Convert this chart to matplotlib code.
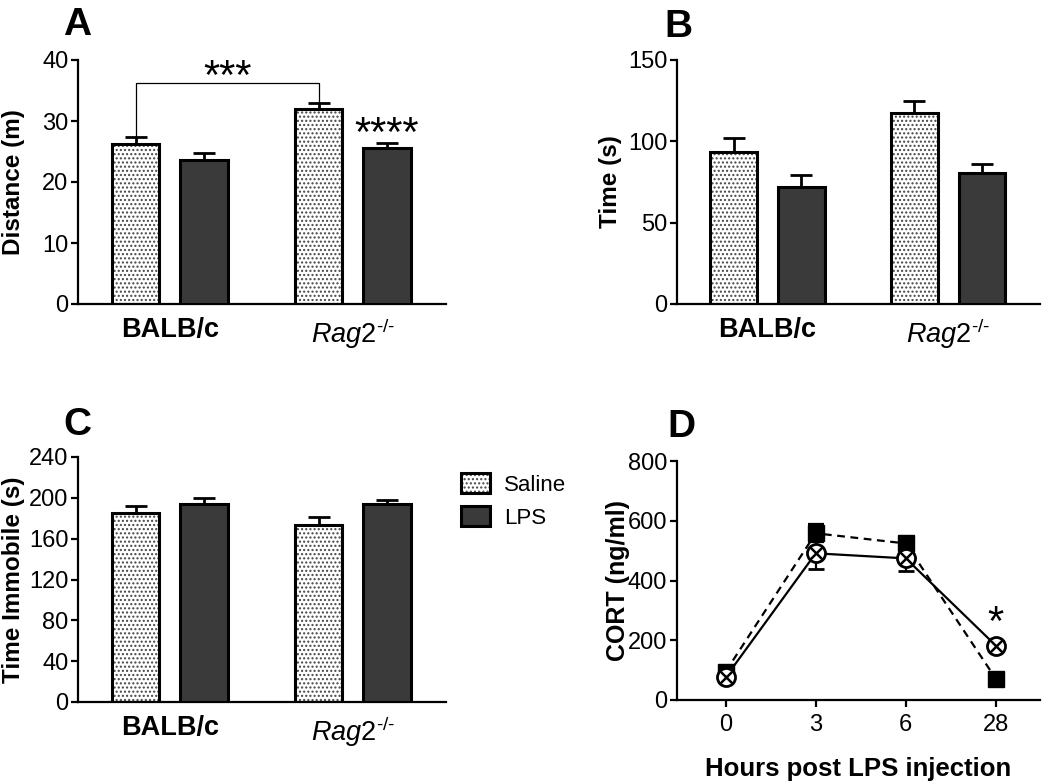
import matplotlib
matplotlib.use('Agg')
import matplotlib.pyplot as plt
import numpy as np
from matplotlib.patches import Patch
from matplotlib.legend_handler import HandlerTuple

plt.rcParams['font.family'] = ['Liberation Sans', 'DejaVu Sans']
plt.rcParams['mathtext.fontset'] = 'custom'
plt.rcParams['mathtext.rm'] = 'Liberation Sans'
plt.rcParams['mathtext.it'] = 'Liberation Sans:italic'
plt.rcParams['mathtext.bf'] = 'Liberation Sans:bold'
plt.rcParams['hatch.linewidth'] = 1.0

# ---------------- data ----------------
strains = ['BALB/c', r'$\mathit{Rag2}^{\text{-/-}}$']
treatments = ['Saline', 'LPS']

dist_saline = [26.2, 32.0]
dist_saline_sem = [1.1, 1.0]
dist_lps = [23.6, 25.6]
dist_lps_sem = [1.1, 0.8]

time_saline = [93.6, 117.2]
time_saline_sem = [8.6, 7.8]
time_lps = [72.1, 80.3]
time_lps_sem = [7.2, 5.6]

imm_saline = [185.1, 173.1]
imm_saline_sem = [6.9, 8.1]
imm_lps = [194.4, 193.7]
imm_lps_sem = [5.8, 4.6]

hours = ['0', '3', '6', '28']
cort_saline = [76, 491, 474, 182]
cort_saline_sem = [10, 54, 42, 14]
cort_lps = [95, 558, 524, 71]
cort_lps_sem = [10, 30, 12, 8]

# ---------------- figure ----------------
W, H = 1050, 781
fig = plt.figure(figsize=(W / 100, H / 100), dpi=100)


def px_axes(l, t, r, b):
    return fig.add_axes([l / W, 1 - b / H, (r - l) / W, (b - t) / H])


HATCH_COLOR = '#444444'
LPS_COLOR = '#3a3a3a'
TICK_FS = 17
LABEL_FS = 17.5
GROUP_GAP = 2.67
BAR_W = 0.69


def style_axes(ax):
    for s in ['top', 'right']:
        ax.spines[s].set_visible(False)
    for s in ['left', 'bottom']:
        ax.spines[s].set_linewidth(1.6)
    ax.tick_params(axis='y', direction='out', length=5, width=1.6,
                   labelsize=TICK_FS, pad=2)


def bar_panel(ax, sal, sal_e, lps, lps_e, ymax, ystep, ylabel, ylab_x):
    xs = np.arange(len(strains)) * GROUP_GAP
    xl = xs + 1
    ax.bar(xs, sal, width=BAR_W, color='white', edgecolor=HATCH_COLOR,
           hatch='....', linewidth=0, zorder=2)
    ax.bar(xs, sal, width=BAR_W, fill=False, edgecolor='black',
           linewidth=2.2, zorder=3)
    ax.bar(xl, lps, width=BAR_W, color=LPS_COLOR, edgecolor='black',
           linewidth=2.2, zorder=3)
    ax.errorbar(xs, sal, yerr=[np.zeros(len(sal)), sal_e], fmt='none',
                ecolor='black', elinewidth=2, capsize=8, capthick=2, zorder=4)
    ax.errorbar(xl, lps, yerr=[np.zeros(len(lps)), lps_e], fmt='none',
                ecolor='black', elinewidth=2, capsize=8, capthick=2, zorder=4)
    ax.set_xlim(-0.84, xs[-1] + 1 + 0.86)
    ax.set_ylim(0, ymax)
    ax.set_yticks(np.arange(0, ymax + 1, ystep))
    style_axes(ax)
    ax.set_xticks(xs + 0.5)
    ax.set_xticklabels(strains, fontsize=19.5)
    ax.get_xticklabels()[0].set_fontweight('bold')
    ax.tick_params(axis='x', length=0, pad=9)
    ax.set_ylabel(ylabel, fontsize=LABEL_FS, fontweight='bold')
    ax.yaxis.set_label_coords(ylab_x, 0.5)
    return xs, xl


# Panel A
axA = px_axes(78, 60, 446, 304)
xsA, xlA = bar_panel(axA, dist_saline, dist_saline_sem, dist_lps, dist_lps_sem,
                     40, 10, 'Distance (m)', -0.145)
yb = 36.3
axA.plot([xsA[0], xsA[0], xsA[1], xsA[1]],
         [dist_saline[0] + dist_saline_sem[0], yb, yb,
          dist_saline[1] + dist_saline_sem[1]],
         color='black', lw=0.9, zorder=5)
axA.text((xsA[0] + xsA[1]) / 2, 35.2, '***', ha='center', va='baseline',
         fontsize=30)
axA.text(xlA[1], 25.9, '****', ha='center', va='baseline', fontsize=30)

# Panel B
axB = px_axes(677, 60, 1040, 304)
bar_panel(axB, time_saline, time_saline_sem, time_lps, time_lps_sem,
          150, 50, 'Time (s)', -0.152)

# Panel C
axC = px_axes(78, 457, 446, 702)
bar_panel(axC, imm_saline, imm_saline_sem, imm_lps, imm_lps_sem,
          240, 40, 'Time Immobile (s)', -0.145)

# Panel D
axD = px_axes(677, 461, 1040, 700)
xd = np.arange(len(hours))
axD.errorbar(xd, cort_lps, yerr=cort_lps_sem, color='black', lw=1.6,
             ls=(0, (3.5, 2.5)), marker='s', ms=11.5, mfc='black', mec='black',
             capsize=6, capthick=1.6, elinewidth=1.6, zorder=3)
axD.errorbar(xd, cort_saline, yerr=cort_saline_sem, color='black', lw=1.6,
             ls='-', marker='o', ms=13, mfc='white', mec='black', mew=2,
             capsize=6, capthick=1.6, elinewidth=1.6, zorder=4)
axD.plot(xd, cort_saline, ls='none', marker='x', ms=9, mec='black', mew=1.8,
         zorder=5)
axD.set_xlim(-0.54, 3.49)
axD.set_ylim(0, 800)
axD.set_yticks(np.arange(0, 801, 200))
style_axes(axD)
axD.set_xticks(xd)
axD.set_xticklabels(hours)
axD.tick_params(axis='x', direction='out', length=5, width=1.6,
                labelsize=TICK_FS, pad=5)
axD.set_ylabel('CORT (ng/ml)', fontsize=LABEL_FS + 0.5, fontweight='bold')
axD.yaxis.set_label_coords(-0.13, 0.5)
axD.set_xlabel('Hours post LPS injection', fontsize=18.5,
               fontweight='bold', labelpad=15)
axD.text(xd[3], 216, '*', ha='center', va='baseline', fontsize=30)

# Panel letters
for lab, x, y in [('A', 77, 35), ('B', 678, 37), ('C', 77, 435), ('D', 681, 437)]:
    fig.text(x / W, 1 - y / H, lab, ha='center', va='baseline',
             fontsize=28, fontweight='bold')

# Legend
h_sal = (Patch(facecolor='white', edgecolor=HATCH_COLOR, hatch='....', linewidth=0),
         Patch(fill=False, edgecolor='black', linewidth=2.2))
h_lps = Patch(facecolor=LPS_COLOR, edgecolor='black', linewidth=2.2)
fig.legend(handles=[h_sal, h_lps], labels=treatments,
           handler_map={tuple: HandlerTuple(ndivide=1, pad=0)},
           loc='center left', bbox_to_anchor=(441 / W, 1 - 501 / H),
           frameon=False, fontsize=16, handlelength=1.3, handleheight=1.0,
           handletextpad=0.63, labelspacing=0.45)

fig.savefig('out.png', dpi=100)
